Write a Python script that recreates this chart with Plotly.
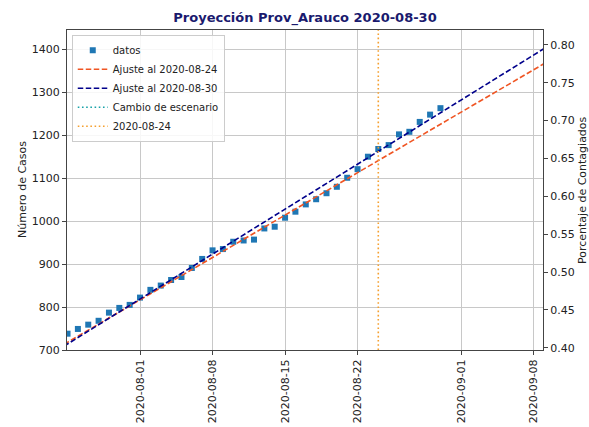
import numpy as np
import pandas as pd
import plotly.graph_objects as go

# ---- data ----
fechas = pd.date_range("2020-07-25", "2020-08-30", freq="D")
casos = [738, 749, 759, 768, 787, 798, 805,
         822, 840, 850, 863, 870, 891, 912, 932, 935, 952, 955, 957, 983,
         987, 1008, 1022, 1039, 1051, 1065, 1080, 1101, 1121, 1150, 1168,
         1177, 1202, 1208, 1231, 1248, 1263]
poblacion = 176300  # factor for the right axis (percentage)
fecha_corte_1 = "2020-08-24"
# fitted linear models (cases = a + b * days since 2020-07-25)
ajuste_0824 = dict(a=718.0, b=14.1)
ajuste_0830 = dict(a=714.0, b=14.95)
x_ticks = ["2020-08-01", "2020-08-08", "2020-08-15", "2020-08-22", "2020-09-01", "2020-09-08"]
y_ticks = [700, 800, 900, 1000, 1100, 1200, 1300, 1400]
pct_ticks = [0.40, 0.45, 0.50, 0.55, 0.60, 0.65, 0.70, 0.75, 0.80]

t0 = fechas[0]
dias_lin = np.arange(-1, 48, 1.0)
fechas_lin = [t0 + pd.Timedelta(days=float(d)) for d in dias_lin]

x_range = ["2020-07-24 22:48", "2020-09-08 21:36"]
y_range = [700, 1445]

DASH = "5.5px,2.5px"
DOT = "1.6px,2.6px"

fig = go.Figure()
fig.add_trace(go.Scatter(x=fechas, y=casos, mode="markers", name="datos",
                         marker=dict(symbol="square", size=6, color="#1f77b4")))
fig.add_trace(go.Scatter(x=fechas_lin, y=ajuste_0824["a"] + ajuste_0824["b"] * dias_lin,
                         mode="lines", name="Ajuste al 2020-08-24",
                         line=dict(color="#f05523", dash=DASH, width=1.6)))
fig.add_trace(go.Scatter(x=fechas_lin, y=ajuste_0830["a"] + ajuste_0830["b"] * dias_lin,
                         mode="lines", name="Ajuste al 2020-08-30",
                         line=dict(color="#00008b", dash=DASH, width=1.6)))
fig.add_trace(go.Scatter(x=[None], y=[None], mode="lines", name="Cambio de escenario",
                         line=dict(color="#17a2a8", dash=DOT, width=1.6)))
fig.add_trace(go.Scatter(x=[fecha_corte_1, fecha_corte_1], y=y_range, mode="lines",
                         name="2020-08-24",
                         line=dict(color="#f5a030", dash=DOT, width=1.6)))
fig.add_trace(go.Scatter(x=[fechas[0]], y=[casos[0] / poblacion * 100], yaxis="y2",
                         mode="markers", marker=dict(opacity=0), showlegend=False,
                         hoverinfo="skip"))

font = "DejaVu Sans, Arial, sans-serif"
W, H = 589, 427
ml, mt = 67, 30
pw, ph = 476, 320
mr, mb = W - ml - pw, H - mt - ph
fig.update_layout(
    width=W, height=H,
    margin=dict(l=ml, r=mr, t=mt, b=mb, autoexpand=False),
    paper_bgcolor="white", plot_bgcolor="white",
    font=dict(family=font, size=11, color="#222222"),
    title=dict(text="<b>Proyección Prov_Arauco 2020-08-30</b>", x=305 / W,
               xanchor="center", y=1 - 17 / H, yanchor="middle",
               font=dict(family=font, size=13, color="#1a1a6e")),
    showlegend=True,
    legend=dict(x=0.01, y=0.985, xanchor="left", yanchor="top",
                bgcolor="rgba(255,255,255,0.85)", bordercolor="#cccccc", borderwidth=1,
                font=dict(size=10, color="#222222"), tracegroupgap=0,
                itemwidth=30),
    xaxis=dict(type="date", range=x_range, tickvals=x_ticks, ticktext=x_ticks,
               tickangle=-90, showgrid=True, gridcolor="#c8c8c8", gridwidth=1,
               showline=True, linecolor="#444444", linewidth=1, mirror=True,
               ticks="outside", ticklen=4, tickcolor="#444444", zeroline=False,
               automargin=False),
    yaxis=dict(range=y_range, tickvals=y_ticks, showgrid=True, gridcolor="#c8c8c8",
               gridwidth=1, showline=True, linecolor="#444444", linewidth=1,
               ticks="outside", ticklen=4, tickcolor="#444444", zeroline=False,
               automargin=False),
    yaxis2=dict(overlaying="y", side="right",
                range=[y_range[0] / poblacion * 100, y_range[1] / poblacion * 100],
                tickvals=pct_ticks, tickformat=".2f", showgrid=False,
                showline=True, linecolor="#444444", linewidth=1,
                ticks="outside", ticklen=4, tickcolor="#444444", zeroline=False,
                automargin=False),
    annotations=[
        dict(text="Número de Casos", xref="paper", yref="paper",
             x=-(ml - 22) / pw, y=0.5, xanchor="center", yanchor="middle",
             textangle=-90, showarrow=False, font=dict(size=11, color="#222222")),
        dict(text="Porcentaje de Contagiados", xref="paper", yref="paper",
             x=1 + (582 - (ml + pw)) / pw, y=0.5, xanchor="center",
             yanchor="middle", textangle=-90, showarrow=False,
             font=dict(size=11, color="#222222")),
    ],
)

fig.write_html("out.html",
               config={"displayModeBar": False},
               post_script="document.body.style.margin='0';document.body.style.overflow='hidden';")
